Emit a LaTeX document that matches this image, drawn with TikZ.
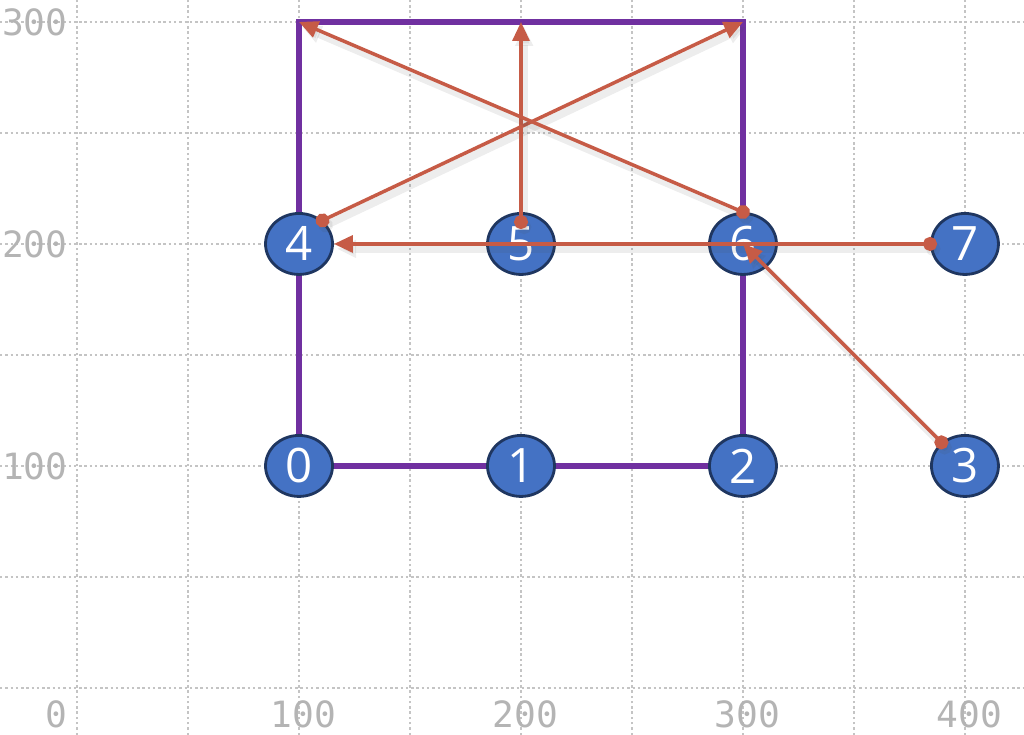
\documentclass[tikz,border=0pt]{standalone}
\usepackage{fontspec}
\setmainfont{Open Sans}
\newfontfamily\axisfont{DejaVu Sans Mono}
\usetikzlibrary{arrows.meta,shapes.geometric,backgrounds}
\definecolor{nodeblue}{HTML}{4472C4}
\definecolor{nodeedge}{HTML}{1F3660}
\definecolor{wallpurple}{HTML}{7030A0}
\definecolor{movered}{HTML}{C65B46}
\definecolor{gridgray}{HTML}{C4C4C4}
\definecolor{labelgray}{HTML}{B4B4B4}

\begin{document}
\begin{tikzpicture}[x=2.22cm, y=2.22cm,
  vertex/.style={ellipse, draw=nodeedge, line width=0.8pt, fill=nodeblue, text=white,
    minimum width=0.67cm, minimum height=0.61cm, inner sep=0pt, font=\fontsize{13.5}{15}\selectfont},
  wall/.style={wallpurple, line width=1.5pt},
  move/.style={movered, line width=1pt, {Circle[length=4pt]}-{Triangle[length=5.4pt,width=4.8pt]},
    shorten <=-2pt, preaction={draw=black!70, line width=2.2pt, opacity=0.1, transform canvas={shift={(0.9pt,-1.4pt)}}}},
  gridline/.style={gridgray, line width=0.7pt, dash pattern=on 0.7pt off 0.8pt},
  axislabel/.style={labelgray, font=\axisfont\fontsize{10.3}{12}\selectfont, inner sep=0pt}]
  \useasboundingbox (-0.347,-0.212) rectangle (4.266,3.099);
  \foreach \n/\x/\y in {0/1/1, 1/2/1, 2/3/1, 3/4/1, 4/1/2, 5/2/2, 6/3/2, 7/4/2}
    \node[vertex] (n\n) at (\x,\y) {\n};
  \coordinate (tl) at (1,3);
  \coordinate (tm) at (2,3);
  \coordinate (tr) at (3,3);
  \begin{scope}[on background layer]
    \draw[gridline, step=0.5] (-0.347,-0.212) grid (4.266,3.099);
    \draw[wall] (n0.center) -- (tl) -- (tr) -- (n2.center) -- cycle;
  \end{scope}
  \node[axislabel, anchor=north east] (x0) at (-0.04,-0.055) {0};
  \foreach \v in {1,2,3,4}
    \node[axislabel, anchor=north] (x\v) at (\v+0.02,-0.055) {\v00};
  \foreach \v in {1,2,3}
    \node[axislabel, anchor=east] (y\v) at (-0.04,\v) {\v00};
  \draw[move] (n4.45) -- (tr);
  \draw[move] ([yshift=-0.1cm]n5.north) -- (tm);
  \draw[move] (n6.north) -- (tl);
  \draw[move] (n7.west) -- (n4.east);
  \draw[move] (n3.135) -- (n6.center);
\end{tikzpicture}
\end{document}
